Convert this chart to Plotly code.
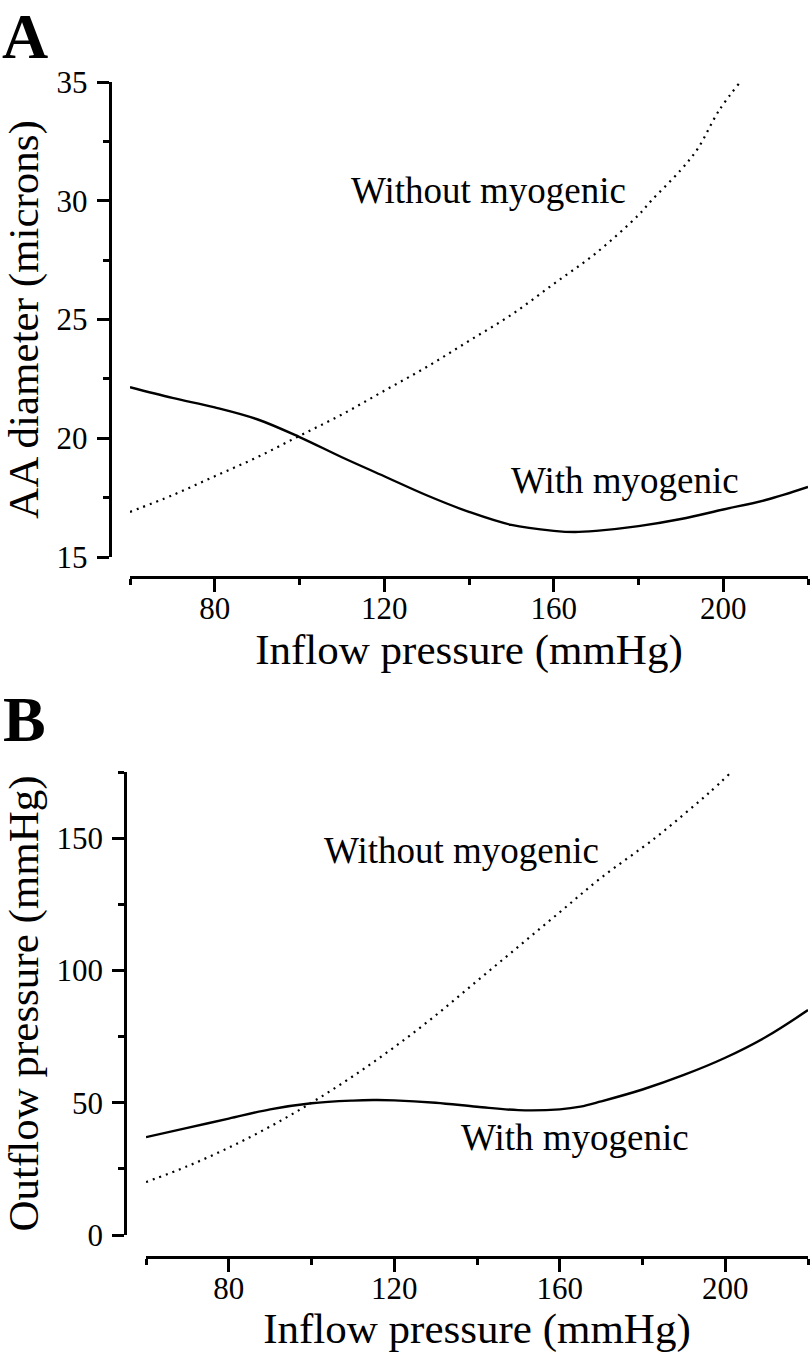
import plotly.graph_objects as go

W, H = 812, 1353

# ---- Panel A data: AA diameter (microns) vs inflow pressure (mmHg)
a_with_x = [60, 70, 80, 90, 100, 110, 120, 130, 140, 150, 160, 165, 170, 180, 190, 200, 210, 220]
a_with_y = [22.15, 21.7, 21.3, 20.8, 20.05, 19.2, 18.4, 17.6, 16.9, 16.35, 16.1, 16.05, 16.1, 16.3, 16.6, 17.0, 17.4, 17.95]
a_without_x = [60, 70, 80, 90, 100, 110, 120, 130, 140, 150, 160, 170, 180, 183, 190, 194, 199, 204]
a_without_y = [16.9, 17.6, 18.4, 19.2, 20.1, 21.0, 22.0, 23.0, 24.1, 25.2, 26.5, 27.8, 29.4, 30.0, 31.3, 32.2, 33.8, 35.0]

# ---- Panel B data: outflow pressure (mmHg) vs inflow pressure (mmHg)
b_with_x = [60, 70, 80, 90, 100, 110, 115, 120, 130, 140, 150, 160, 165, 170, 180, 190, 200, 210, 220]
b_with_y = [37, 40.5, 44, 47.5, 49.8, 50.8, 51, 50.9, 50, 48.5, 47.2, 47.5, 48.5, 50.5, 55, 60.5, 67, 75, 85]
b_without_x = [60, 70, 80, 90, 100, 110, 120, 130, 140, 150, 160, 170, 183, 190, 196, 201.5]
b_without_y = [20, 26, 33, 41, 50, 60, 71, 83, 96, 109, 122, 135, 150, 159, 167, 175]

x_ticks = [80, 120, 160, 200]
a_yticks = [15, 20, 25, 30, 35]
b_yticks = [0, 50, 100, 150]

FONT = "Liberation Serif, Times New Roman, serif"

def px(xp):
    return xp / W

def py(yp):
    return 1 - yp / H

fig = go.Figure()

solid = dict(color="black", width=2.4)
dotted = dict(color="black", width=2.2, dash="2px,5px")

fig.add_trace(go.Scatter(x=a_with_x, y=a_with_y, mode="lines", line=dict(shape="spline", **solid),
                         xaxis="x", yaxis="y", showlegend=False))
fig.add_trace(go.Scatter(x=a_without_x, y=a_without_y, mode="lines", line=dict(shape="spline", **dotted),
                         xaxis="x", yaxis="y", showlegend=False))
fig.add_trace(go.Scatter(x=b_with_x, y=b_with_y, mode="lines", line=dict(shape="spline", **solid),
                         xaxis="x2", yaxis="y2", showlegend=False))
fig.add_trace(go.Scatter(x=b_without_x, y=b_without_y, mode="lines", line=dict(shape="spline", **dotted),
                         xaxis="x2", yaxis="y2", showlegend=False))

TICK = 31
TITLE = 43

def xax(domain, pos, standoff):
    return dict(domain=domain, range=[60, 220], anchor="free", position=pos, automargin=False,
                showline=True, linewidth=2.5, linecolor="black", showgrid=False, zeroline=False,
                tickmode="array", tickvals=x_ticks, ticks="outside", ticklen=13, tickwidth=2.5,
                tickcolor="black", tickfont=dict(family=FONT, size=TICK, color="black"),
                ticklabelstandoff=-10,
                minor=dict(dtick=20, tick0=60, ticks="outside", ticklen=6, tickwidth=2.5, tickcolor="black"),
                title=dict(text="Inflow pressure (mmHg)", font=dict(family=FONT, size=TITLE, color="black"),
                           standoff=standoff))

def yax(domain, pos, rng, vals, minor_dt, title):
    return dict(domain=domain, range=rng, anchor="free", position=pos, automargin=False,
                showline=True, linewidth=2.5, linecolor="black", showgrid=False, zeroline=False,
                tickmode="array", tickvals=vals, ticks="outside", ticklen=12, tickwidth=2.5,
                tickcolor="black", tickfont=dict(family=FONT, size=TICK, color="black"),
                ticklabelstandoff=3,
                minor=dict(dtick=minor_dt, ticks="outside", ticklen=6, tickwidth=2.5, tickcolor="black"),
                title=dict(text=title, font=dict(family=FONT, size=TITLE, color="black"), standoff=8))

fig.update_layout(
    template="none",
    width=W, height=H, margin=dict(l=0, r=0, t=0, b=0, pad=0),
    paper_bgcolor="white", plot_bgcolor="white",
    xaxis=xax([px(130), px(808)], py(577), 6),
    yaxis=yax([py(557), py(82)], px(109.5), [15, 35], a_yticks, 2.5, "AA diameter (microns)"),
    xaxis2=xax([px(146), px(808)], py(1257), 4),
    yaxis2=yax([py(1235), py(772)], px(125), [0, 175], b_yticks, 25, "Outflow pressure (mmHg)"),
)

ann_font = dict(family=FONT, size=37, color="black")
fig.add_annotation(text="Without myogenic", x=144.5, y=30.45, xref="x", yref="y", showarrow=False, font=ann_font)
fig.add_annotation(text="With myogenic", x=176.8, y=18.2, xref="x", yref="y", showarrow=False, font=ann_font)
fig.add_annotation(text="Without myogenic", x=136.2, y=145.4, xref="x2", yref="y2", showarrow=False, font=ann_font)
fig.add_annotation(text="With myogenic", x=163.8, y=37, xref="x2", yref="y2", showarrow=False, font=ann_font)

panel_font = dict(family=FONT, size=64, color="black")
fig.add_annotation(text="<b>A</b>", x=px(25), y=py(36), xref="paper", yref="paper", xanchor="center",
                   yanchor="middle", showarrow=False, font=panel_font)
fig.add_annotation(text="<b>B</b>", x=px(24), y=py(720), xref="paper", yref="paper", xanchor="center",
                   yanchor="middle", showarrow=False, font=panel_font)

fig.write_html("out.html",
               config={"displayModeBar": False},
               post_script="document.body.style.margin='0px';document.body.style.overflow='hidden';"
                           "document.documentElement.style.overflow='hidden';")
